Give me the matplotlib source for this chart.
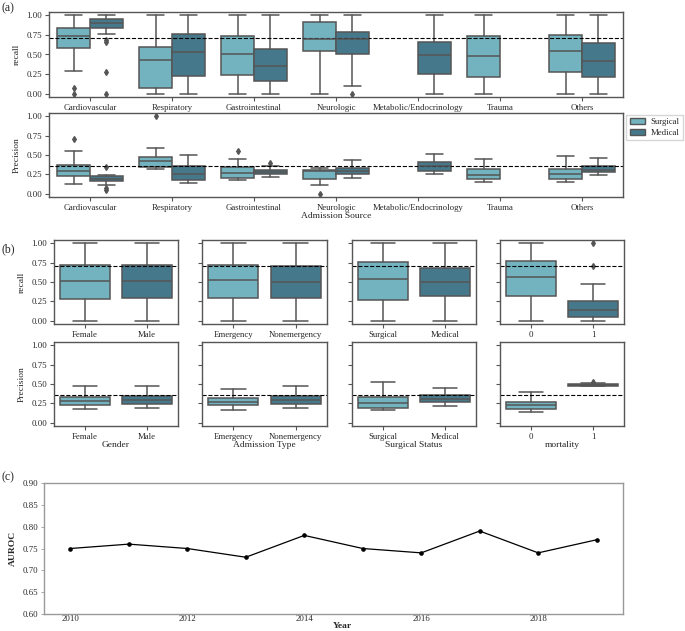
import numpy as np
import matplotlib.pyplot as plt
import matplotlib.patches as mpatches
import seaborn as sns

sns.set_style("ticks")
plt.rcParams['font.family'] = ['Liberation Serif', 'DejaVu Serif']

SURG = '#72B3BF'
MED = '#46788B'
EDGE = '#555555'

# ---------------- (a) admission source ----------------
sources = ['Cardiovascular', 'Respiratory', 'Gastrointestinal', 'Neurologic',
           'Metabolic/Endocrinology', 'Trauma', 'Others']
# five-number summaries: [whislo, q1, median, q3, whishi]; None = group absent
rec_surg = [[0.29, 0.58, 0.74, 0.84, 1.0], [0.0, 0.08, 0.43, 0.60, 1.0],
            [0.0, 0.235, 0.51, 0.74, 1.0], [0.0, 0.54, 0.70, 0.91, 1.0],
            None, [0.0, 0.22, 0.48, 0.73, 1.0], [0.0, 0.28, 0.54, 0.75, 1.0]]
rec_surg_fl = [[0.08, 0.0], [], [], [], [], [], []]
rec_med = [[0.765, 0.84, 0.90, 0.95, 1.0], [0.0, 0.225, 0.535, 0.765, 1.0],
           [0.0, 0.165, 0.35, 0.575, 1.0], [0.10, 0.50, 0.70, 0.79, 1.0],
           [0.0, 0.255, 0.49, 0.665, 1.0], None, [0.0, 0.21, 0.42, 0.64, 1.0]]
rec_med_fl = [[0.68, 0.66, 0.28, 0.0], [], [], [0.0], [], [], []]

prec_surg = [[0.125, 0.23, 0.29, 0.37, 0.55], [0.325, 0.345, 0.42, 0.48, 0.59],
             [0.18, 0.21, 0.27, 0.345, 0.455], [0.11, 0.195, 0.29, 0.31, 0.33],
             None, [0.155, 0.19, 0.245, 0.32, 0.45], [0.15, 0.19, 0.255, 0.315, 0.485]]
prec_surg_fl = [[0.70], [1.0], [0.555], [0.0], [], [], []]
prec_med = [[0.11, 0.165, 0.195, 0.23, 0.24], [0.14, 0.185, 0.25, 0.36, 0.50],
            [0.22, 0.25, 0.28, 0.31, 0.36], [0.205, 0.25, 0.30, 0.335, 0.435],
            [0.25, 0.30, 0.36, 0.41, 0.515], None, [0.245, 0.28, 0.31, 0.36, 0.465]]
prec_med_fl = [[0.34, 0.07, 0.05], [], [0.40], [], [], [], []]

rec_ref = 0.71
prec_ref = 0.36

# ---------------- (b) subgroups ----------------
groups = [['Female', 'Male'], ['Emergency', 'Nonemergency'],
          ['Surgical', 'Medical'], ['0', '1']]
group_titles = ['Gender', 'Admission Type', 'Surgical Status', 'mortality']
b_rec = [[[0.0, 0.285, 0.515, 0.715, 1.0], [0.0, 0.30, 0.515, 0.715, 1.0]],
         [[0.0, 0.29, 0.52, 0.72, 1.0], [0.0, 0.29, 0.495, 0.70, 1.0]],
         [[0.0, 0.27, 0.54, 0.755, 1.0], [0.0, 0.315, 0.495, 0.685, 1.0]],
         [[0.0, 0.325, 0.56, 0.77, 1.0], [0.0, 0.05, 0.135, 0.26, 0.47]]]
b_rec_fl = [[[], []], [[], []], [[], []], [[], [0.71, 1.0]]]
b_prec = [[[0.185, 0.235, 0.28, 0.33, 0.47], [0.19, 0.245, 0.30, 0.35, 0.47]],
          [[0.17, 0.225, 0.265, 0.315, 0.44], [0.195, 0.24, 0.29, 0.34, 0.48]],
          [[0.16, 0.195, 0.26, 0.33, 0.52], [0.215, 0.265, 0.31, 0.36, 0.445]],
          [[0.14, 0.175, 0.225, 0.265, 0.395], [0.472, 0.48, 0.489, 0.498, 0.507]]]
b_prec_fl = [[[], []], [[], []], [[], []], [[], [0.525]]]

# ---------------- (c) AUROC per year ----------------
years = [2010, 2011, 2012, 2013, 2014, 2015, 2016, 2017, 2018, 2019]
auroc = [0.75, 0.76, 0.75, 0.73, 0.78, 0.75, 0.74, 0.79, 0.74, 0.77]

W, H = 685, 631
fig = plt.figure(figsize=(W / 100, H / 100), dpi=100)

TICK_FS = 6.3
LAB_FS = 6.8


def px_axes(x0, y0, x1, y1):
    return fig.add_axes([x0 / W, 1 - y1 / H, (x1 - x0) / W, (y1 - y0) / H])


def draw_boxes(ax, summaries, fliers, positions, color, width):
    st, pos = [], []
    for s, f, p in zip(summaries, fliers, positions):
        if s is None:
            continue
        lo, q1, med, q3, hi = s
        st.append(dict(whislo=lo, q1=q1, med=med, q3=q3, whishi=hi, fliers=f))
        pos.append(p)
    lw = 1.1
    ax.bxp(st, positions=pos, widths=width, capwidths=width / 2,
           patch_artist=True, showfliers=True, manage_ticks=False,
           boxprops=dict(facecolor=color, edgecolor=EDGE, linewidth=lw),
           medianprops=dict(color=EDGE, linewidth=lw),
           whiskerprops=dict(color=EDGE, linewidth=lw),
           capprops=dict(color=EDGE, linewidth=lw),
           flierprops=dict(marker='d', markerfacecolor=EDGE,
                           markeredgecolor=EDGE, markersize=3))


def style(ax):
    for sp in ax.spines.values():
        sp.set_color(EDGE)
        sp.set_linewidth(1.0)
    ax.tick_params(labelsize=TICK_FS, length=3, width=0.8, color=EDGE, pad=2)


yt = [0.0, 0.25, 0.5, 0.75, 1.0]
ytl = ['0.00', '0.25', '0.50', '0.75', '1.00']

# (a)
pos = np.arange(len(sources))
ax_ar = px_axes(49, 12, 623, 97)
ax_ap = px_axes(49, 113, 623, 197)
for ax, sd, sf, md, mf, ref, lab in [
        (ax_ar, rec_surg, rec_surg_fl, rec_med, rec_med_fl, rec_ref, 'recall'),
        (ax_ap, prec_surg, prec_surg_fl, prec_med, prec_med_fl, prec_ref, 'Precision')]:
    draw_boxes(ax, sd, sf, pos - 0.2, SURG, 0.4)
    draw_boxes(ax, md, mf, pos + 0.2, MED, 0.4)
    ax.axhline(ref, ls='--', color='k', lw=0.8)
    ax.set_xlim(-0.5, len(sources) - 0.5)
    ax.set_ylim(-0.04, 1.04)
    ax.set_xticks(pos)
    ax.set_xticklabels(sources)
    ax.set_yticks(yt)
    ax.set_yticklabels(ytl)
    ax.set_ylabel(lab, fontsize=LAB_FS, labelpad=4)
    style(ax)
ax_ap.set_xlabel('Admission Source', fontsize=LAB_FS, labelpad=0)
handles = [mpatches.Patch(facecolor=SURG, edgecolor=EDGE, label='Surgical'),
           mpatches.Patch(facecolor=MED, edgecolor=EDGE, label='Medical')]
ax_ap.legend(handles=handles, loc='upper left', bbox_to_anchor=(1.003, 1.0),
             fontsize=6.3, frameon=True, edgecolor='#cccccc', fancybox=False,
             borderpad=0.35, handlelength=1.8, handletextpad=0.6,
             labelspacing=0.35, borderaxespad=0.2)

# (b)
cols = [(54, 178), (202, 327), (352, 476), (500, 624)]
for j, (x0, x1) in enumerate(cols):
    for row, (data, fl, ref, y0, y1, lab) in enumerate([
            (b_rec, b_rec_fl, rec_ref, 240, 324, 'recall'),
            (b_prec, b_prec_fl, prec_ref, 342, 426, 'Precision')]):
        ax = px_axes(x0, y0, x1, y1)
        draw_boxes(ax, [data[j][0]], [fl[j][0]], [0], SURG, 0.8)
        draw_boxes(ax, [data[j][1]], [fl[j][1]], [1], MED, 0.8)
        ax.axhline(ref, ls='--', color='k', lw=0.8)
        ax.set_xlim(-0.5, 1.5)
        ax.set_ylim(-0.04, 1.04)
        ax.set_xticks([0, 1])
        ax.set_xticklabels(groups[j])
        ax.set_yticks(yt)
        if j == 0:
            ax.set_yticklabels(ytl)
            ax.set_ylabel(lab, fontsize=LAB_FS, labelpad=4)
        else:
            ax.set_yticklabels([])
        if row == 1:
            ax.set_xlabel(group_titles[j], fontsize=LAB_FS, labelpad=0)
        style(ax)

# (c)
ax_c = px_axes(44, 483, 623, 614)
ax_c.plot(years, auroc, color='k', lw=0.9, marker='o', markersize=2.3)
ax_c.set_ylim(0.6, 0.9)
ax_c.set_yticks(np.arange(0.60, 0.901, 0.05))
ax_c.set_yticklabels(['%.2f' % v for v in np.arange(0.60, 0.901, 0.05)])
ax_c.set_xticks([2010, 2012, 2014, 2016, 2018])
ax_c.set_xlabel('Year', fontsize=LAB_FS, fontweight='bold', va='center')
ax_c.xaxis.set_label_coords(0.516, -11.5 / 131)
ax_c.set_ylabel('AUROC', fontsize=LAB_FS, fontweight='bold', labelpad=4)
for sp in ax_c.spines.values():
    sp.set_color('#999999')
    sp.set_linewidth(1.0)
ax_c.tick_params(axis='x', labelsize=TICK_FS, length=0, pad=1)
ax_c.tick_params(axis='y', labelsize=TICK_FS, length=2, width=0.6,
                 color='#999999', pad=2)

fig.text(2 / W, 1 - 8 / H, '(a)', fontsize=8.5, va='center', ha='left')
fig.text(2 / W, 1 - 249 / H, '(b)', fontsize=8.5, va='center', ha='left')
fig.text(2 / W, 1 - 477 / H, '(c)', fontsize=8.5, va='center', ha='left')

fig.savefig('out.png', dpi=100)
